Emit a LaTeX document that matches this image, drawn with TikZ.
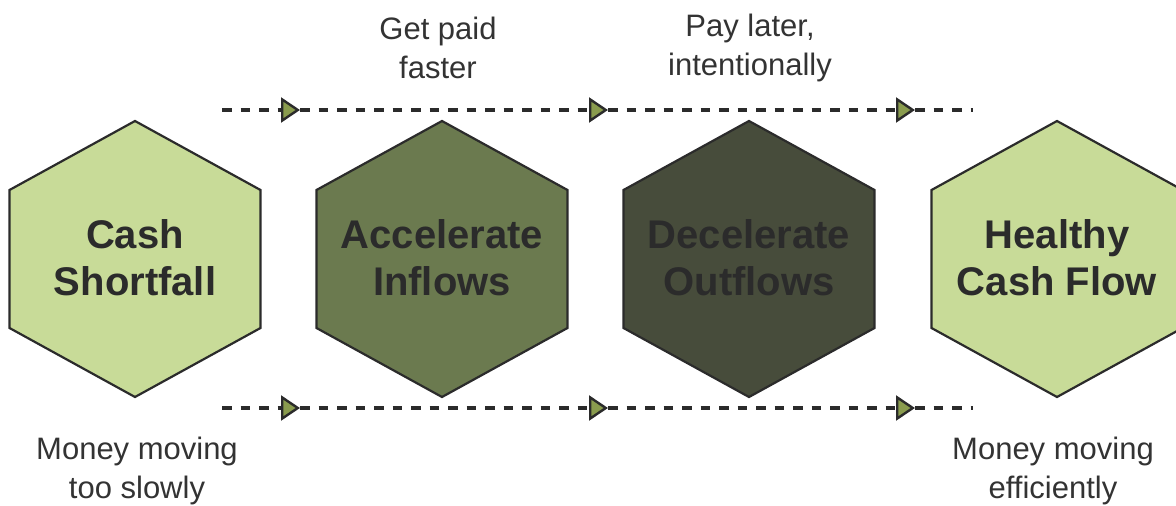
\documentclass[tikz,border=0pt]{standalone}
\usepackage{fontspec}
\setmainfont{Liberation Sans}
\usetikzlibrary{arrows.meta}
\definecolor{inkdark}{HTML}{2B2B2B}
\definecolor{labelgray}{HTML}{333333}
\definecolor{lightgreen}{HTML}{C8DB98}
\definecolor{midgreen}{HTML}{6B7A4F}
\definecolor{darkgreen}{HTML}{474C3B}
\definecolor{tipgreen}{HTML}{8A9C4E}
\tikzset{
  hexbox/.style={draw=inkdark, line width=2.2pt, line join=miter},
  hextext/.style={align=center, text=inkdark, font=\fontsize{40}{47}\selectfont\bfseries},
  sidelabel/.style={align=center, text=labelgray, font=\fontsize{31}{39}\selectfont},
  flowline/.style={draw=inkdark, line width=3.3pt, dash pattern=on 9.5pt off 9pt},
  flowtip/.style={-{Triangle[length=19pt, width=25pt, fill=tipgreen, line width=2.4pt]}},
}
\begin{document}
\begin{tikzpicture}[x=1pt, y=-1pt]
  \useasboundingbox (0,0) rectangle (1176,506);
  % hexagons (pointy top), half-width 125.5, half-height 138
  \foreach \cx/\fc in {135/lightgreen, 442/midgreen, 749/darkgreen, 1057/lightgreen}{
    \filldraw[hexbox, fill=\fc]
      (\cx,121) -- (\cx+125.5,190) -- (\cx+125.5,328) -- (\cx,397)
      -- (\cx-125.5,328) -- (\cx-125.5,190) -- cycle;
  }
  \node[hextext] (h1) at (135,258) {Cash\\Shortfall};
  \node[hextext] (h2) at (442,258) {Accelerate\\Inflows};
  \node[hextext] (h3) at (749,258) {Decelerate\\Outflows};
  \node[hextext] (h4) at (1057,258) {Healthy\\Cash Flow};

  % flow lines above and below the hexagons
  \foreach \row/\y in {t/110, b/408}{
    \coordinate (\row0) at (222,\y);
    \coordinate (\row1) at (300,\y);
    \coordinate (\row2) at (608,\y);
    \coordinate (\row3) at (915,\y);
    \coordinate (\row4) at (973,\y);
    \draw[flowline] (\row3) -- (\row4);
    \draw[flowline, flowtip] (\row2) -- (\row3);
    \draw[flowline, flowtip] (\row1) -- (\row2);
    \draw[flowline, flowtip] (\row0) -- (\row1);
  }

  % captions
  \node[sidelabel] (l1) at (438,48) {Get paid\\faster};
  \node[sidelabel] (l2) at (750,48) {Pay later,\\intentionally};
  \node[sidelabel] (l3) at (137,471) {Money moving\\too slowly};
  \node[sidelabel] (l4) at (1053,471) {Money moving\\efficiently};
\end{tikzpicture}
\end{document}
